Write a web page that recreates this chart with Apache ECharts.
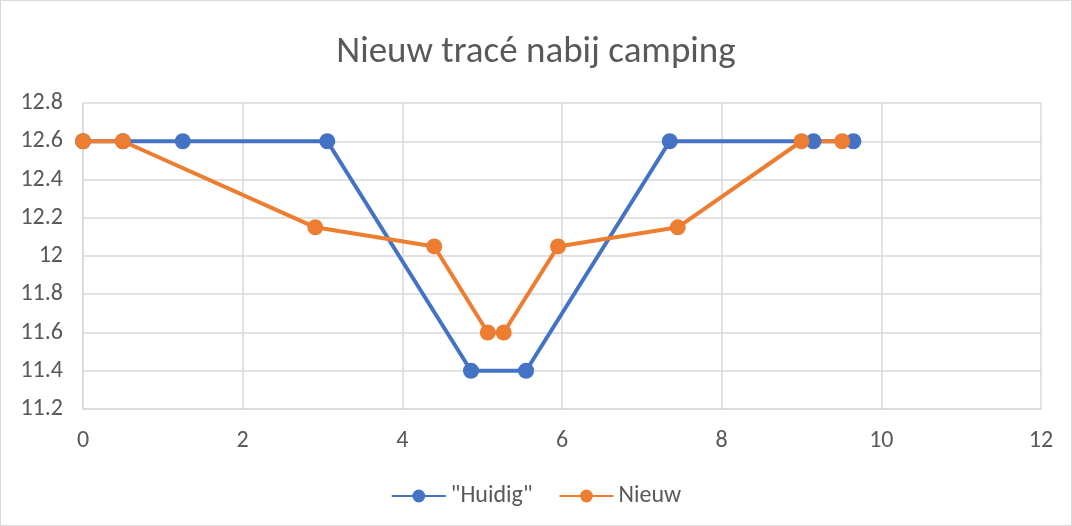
<!DOCTYPE html>
<html>
<head>
<meta charset="utf-8">
<script src="https://cdn.jsdelivr.net/npm/echarts@6/dist/echarts.min.js"></script>
<style>
  html, body { margin: 0; padding: 0; background: #fff; }
  #chart { width: 1070px; height: 524px; border: 1px solid #d9d9d9; }
</style>
</head>
<body>
<div id="chart"></div>
<script>
// "Huidig" profile
const huidigX = [0, 0.5, 1.25, 3.06, 4.86, 5.55, 7.35, 9.15, 9.65];
const huidigY = [12.6, 12.6, 12.6, 12.6, 11.4, 11.4, 12.6, 12.6, 12.6];
// Nieuw profile
const nieuwX = [0, 0.5, 2.91, 4.4, 5.07, 5.27, 5.95, 7.45, 9.0, 9.51];
const nieuwY = [12.6, 12.6, 12.15, 12.05, 11.6, 11.6, 12.05, 12.15, 12.6, 12.6];

const seriesNames = ['"Huidig"', 'Nieuw'];
const colors = ['#4472c4', '#ed7d31'];

const pairs = (xs, ys) => xs.map((x, i) => [x, ys[i]]);

const chart = echarts.init(document.getElementById('chart'));
const textColor = '#595959';
const font = 'Carlito, "Open Sans", "Noto Sans", sans-serif';

chart.setOption({
  animation: false,
  color: colors,
  title: {
    text: 'Nieuw tracé nabij camping',
    left: 'center',
    top: 28,
    textStyle: { color: textColor, fontSize: 37, fontWeight: 'normal', fontFamily: font }
  },
  legend: {
    bottom: 12,
    left: 'center',
    itemWidth: 54,
    itemHeight: 16,
    itemGap: 26,
    textStyle: { color: textColor, fontSize: 24, fontFamily: font },
    data: seriesNames
  },
  grid: { left: 82, right: 30, top: 102, bottom: 116 },
  xAxis: {
    type: 'value',
    min: 0, max: 12, interval: 2,
    axisLine: { show: true, lineStyle: { color: '#d9d9d9', width: 1.5 } },
    axisTick: { show: false },
    splitLine: { show: true, lineStyle: { color: '#d9d9d9', width: 1.5 } },
    axisLabel: { color: textColor, fontSize: 24, fontFamily: font, margin: 20 }
  },
  yAxis: {
    type: 'value',
    min: 11.2, max: 12.8, interval: 0.2,
    axisLine: { show: true, lineStyle: { color: '#d9d9d9', width: 1.5 } },
    axisTick: { show: false },
    splitLine: { show: true, lineStyle: { color: '#d9d9d9', width: 1.5 } },
    axisLabel: {
      color: textColor, fontSize: 24, fontFamily: font, margin: 20,
      formatter: v => String(Math.round(v * 10) / 10)
    }
  },
  series: [
    {
      name: seriesNames[0],
      type: 'line',
      data: pairs(huidigX, huidigY),
      symbol: 'circle',
      symbolSize: 16,
      lineStyle: { width: 4 }
    },
    {
      name: seriesNames[1],
      type: 'line',
      data: pairs(nieuwX, nieuwY),
      symbol: 'circle',
      symbolSize: 16,
      lineStyle: { width: 4 }
    }
  ]
});
</script>
</body>
</html>
